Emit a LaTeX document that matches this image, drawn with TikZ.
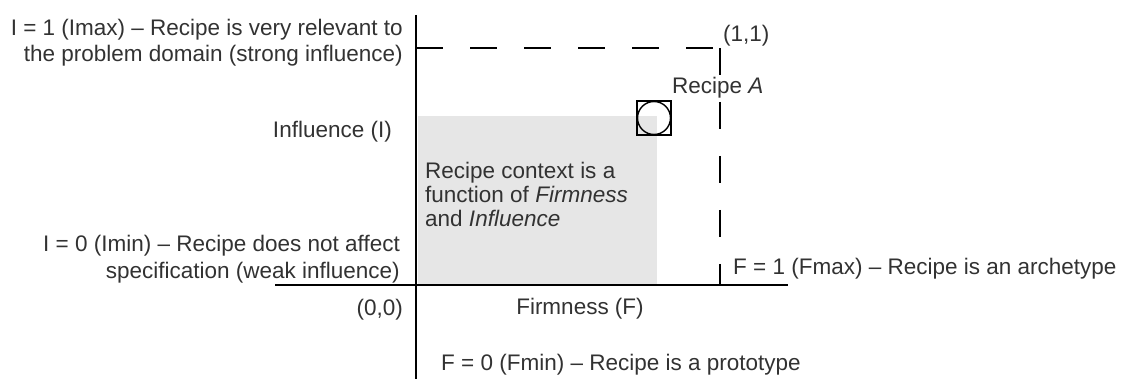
\documentclass[tikz,border=0pt]{standalone}
\usepackage{fontspec}
\setmainfont{Liberation Sans}
\definecolor{txt}{RGB}{50,50,50}
\definecolor{ctxfill}{RGB}{230,230,230}
\begin{document}
\begin{tikzpicture}[x=1pt,y=-1pt,
  lbl/.style={inner sep=0pt,text=txt,font=\fontsize{22.5}{24}\selectfont},
  axis/.style={line width=1.4pt,black},
  dashline/.style={line width=1.4pt,black,dash pattern=on 27pt off 27pt},
  marker/.style={line width=1.4pt,black}]
\useasboundingbox (0,0) rectangle (1121,379);
% context area
\fill[ctxfill] (418,116) rectangle (657,285);
% axes
\coordinate (ytop) at (416,15);
\coordinate (ybot) at (416,379);
\coordinate (xl) at (275,285);
\coordinate (xr) at (788,285);
\draw[axis] (ytop) -- (ybot);
\draw[axis] (xl) -- (xr);
% dashed limits
\coordinate (imax) at (416,48);
\coordinate (corner) at (720,48);
\coordinate (fmax) at (720,285);
\draw[dashline] (imax) -- (corner);
\draw[dashline] (corner) -- (fmax);
% recipe A marker
\node[draw,marker,minimum size=34pt,inner sep=0pt] (sq) at (654,118) {};
\draw[marker] (sq.center) circle (16.5pt);
% labels
\node[lbl,anchor=base east] (imaxa) at (403,36) {I = 1 (Imax) -- Recipe is very relevant to};
\node[lbl,anchor=base east] (imaxb) at (403,62) {the problem domain (strong influence)};
\node[lbl,anchor=base east] (infl) at (392,138) {Influence (I)};
\node[lbl,anchor=base east] (imina) at (400,252) {I = 0 (Imin) -- Recipe does not affect};
\node[lbl,anchor=base east] (iminb) at (400,278) {specification (weak influence)};
\node[lbl,anchor=base east] (orig) at (403,315) {(0,0)};
\node[lbl,anchor=base] (firm) at (580,314) {Firmness (F)};
\node[lbl,anchor=base west] (fmin) at (441,370) {F = 0 (Fmin) -- Recipe is a prototype};
\node[lbl,anchor=base west] (fmaxl) at (733,274) {F = 1 (Fmax) -- Recipe is an archetype};
\node[lbl,anchor=base west] (one) at (723,42) {(1,1)};
\node[lbl,anchor=base west] (reca) at (672,94) {Recipe \textit{A}};
\node[lbl,anchor=base west] (ctx1) at (425,179) {Recipe context is a};
\node[lbl,anchor=base west] (ctx2) at (425,203) {function of \textit{Firmness}};
\node[lbl,anchor=base west] (ctx3) at (425,227) {and \textit{Influence}};
\end{tikzpicture}
\end{document}
